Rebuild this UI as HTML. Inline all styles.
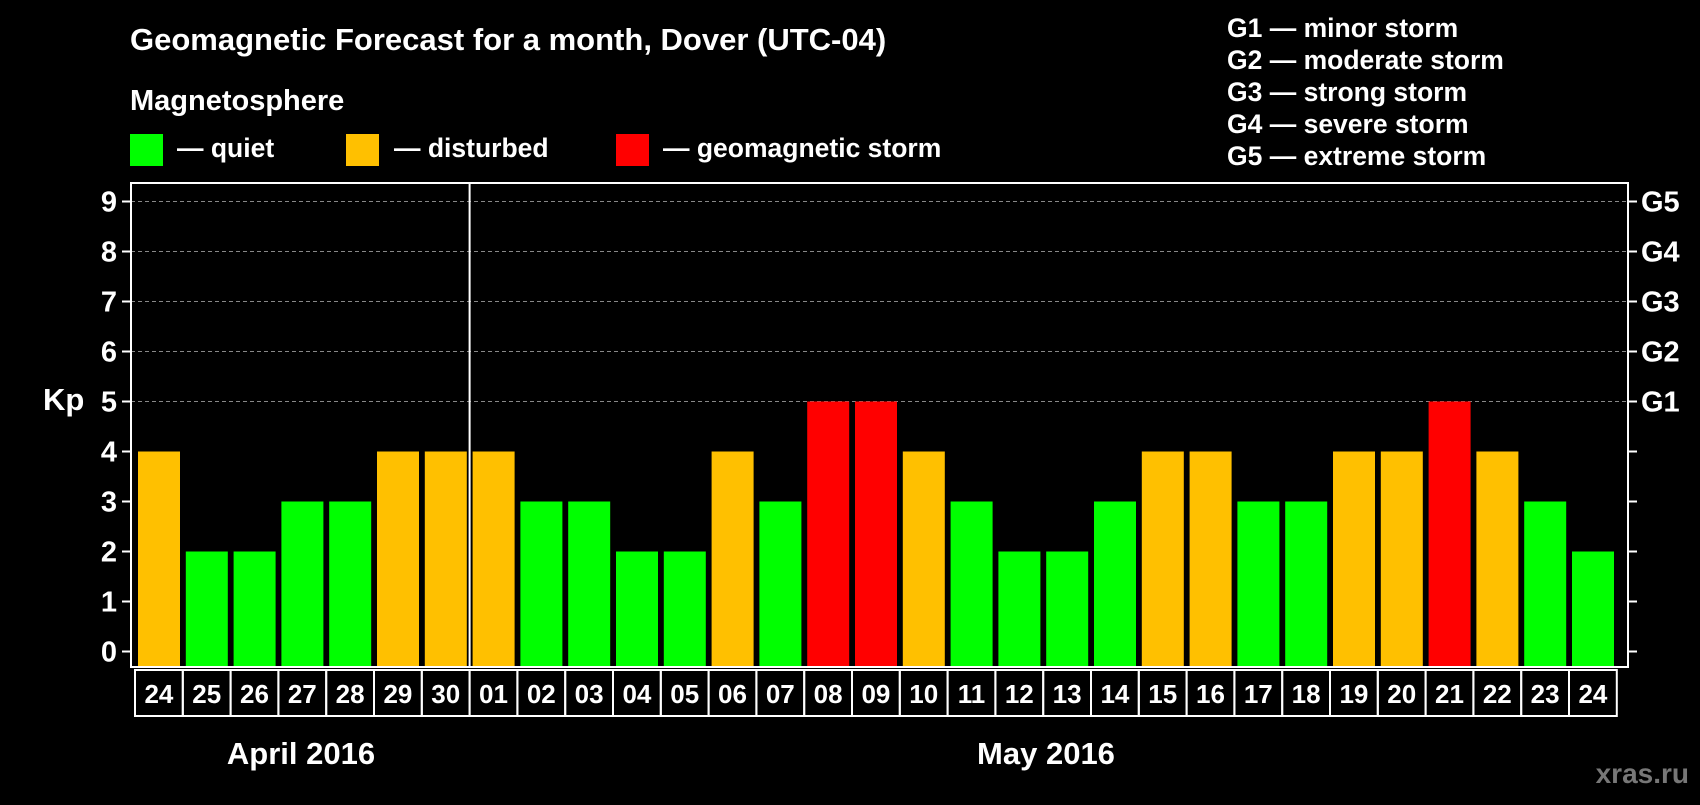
<!DOCTYPE html>
<html><head><meta charset="utf-8"><style>
body{margin:0;background:#000;width:1700px;height:800px;overflow:hidden;font-family:"Liberation Sans",sans-serif}
svg text{font-family:"Liberation Sans",sans-serif;font-weight:bold;fill:#fff}
</style></head><body>
<svg id="c" width="1700" height="800">
<text x="130" y="50" font-size="31">Geomagnetic Forecast for a month, Dover (UTC-04)</text>
<text x="130" y="110" font-size="29">Magnetosphere</text>
<rect x="130" y="134" width="33" height="32" fill="#00ff00"/>
<text x="177" y="157" font-size="26.5">— quiet</text>
<rect x="346" y="134" width="33" height="32" fill="#ffc000"/>
<text x="394" y="157" font-size="26.5">— disturbed</text>
<rect x="616" y="134" width="33" height="32" fill="#ff0000"/>
<text x="663" y="157" font-size="26.5">— geomagnetic storm</text>
<g font-size="26.5">
<text x="1227" y="37">G1 — minor storm</text>
<text x="1227" y="69">G2 — moderate storm</text>
<text x="1227" y="101">G3 — strong storm</text>
<text x="1227" y="133">G4 — severe storm</text>
<text x="1227" y="165">G5 — extreme storm</text>
</g>
<text x="43" y="410" font-size="31">Kp</text>
<text x="301" y="764" font-size="31" text-anchor="middle">April 2016</text>
<text x="1046" y="764" font-size="31" text-anchor="middle">May 2016</text>
<text x="1689" y="783" font-size="28" text-anchor="end" style="fill:#777">xras.ru</text>
<g id="plot"></g>
</svg>
<script>
const days=["24","25","26","27","28","29","30","01","02","03","04","05","06","07","08","09","10","11","12","13","14","15","16","17","18","19","20","21","22","23","24"];
const kp=[4,2,2,3,3,4,4,4,3,3,2,2,4,3,5,5,4,3,2,2,3,4,4,3,3,4,4,5,4,3,2];
const yTicks=[0,1,2,3,4,5,6,7,8,9];
const gLabels=["G1","G2","G3","G4","G5"];
const NS="http://www.w3.org/2000/svg";
const g=document.getElementById('plot');
const L=131,R=1628,T=183,B=667,y0=651.5,uy=50,x0=135,px=47.8;
const Y=v=>y0-v*uy, X=i=>x0+i*px;
function mk(t,a){const e=document.createElementNS(NS,t);for(const k in a)e.setAttribute(k,a[k]);g.appendChild(e);return e;}
yTicks.forEach(v=>{
 if(v>=5){const l=mk('line',{x1:L,x2:R,y1:Y(v),y2:Y(v),stroke:'#888','stroke-dasharray':'4,3','stroke-width':1});
 
 }
 const t1=mk('line',{x1:L-9,x2:L,y1:Y(v),y2:Y(v),stroke:'#fff','stroke-width':2});
 
 
 const t2=mk('line',{x1:R,x2:R+9,y1:Y(v),y2:Y(v),stroke:'#fff','stroke-width':2});
 
 
 const tx=mk('text',{x:L-14,y:Y(v)+10,'font-size':29,'text-anchor':'end'});tx.textContent=v;
 
 
});
gLabels.forEach((s,i)=>{const tx=mk('text',{x:R+13,y:Y(5+i)+10,'font-size':29});tx.textContent=s;
 
 });
kp.forEach((v,i)=>{
 const c=v>=5?'#ff0000':v>=4?'#ffc000':'#00ff00';
 const b=mk('rect',{x:X(i)+3,y:Y(v),width:42,height:B-Y(v),fill:c});
 
 
 const bx=mk('rect',{x:X(i),y:670,width:px,height:46,fill:'none',stroke:'#fff','stroke-width':2});
 
 
 const t=mk('text',{x:X(i)+px/2,y:703,'font-size':26,'text-anchor':'middle'});t.textContent=days[i];
 
 
});
const f=mk('rect',{x:L,y:T,width:R-L,height:B-T,fill:'none',stroke:'#fff','stroke-width':2});


const d=mk('line',{x1:X(7),x2:X(7),y1:T,y2:B,stroke:'#fff','stroke-width':2});


</script>
</body></html>
